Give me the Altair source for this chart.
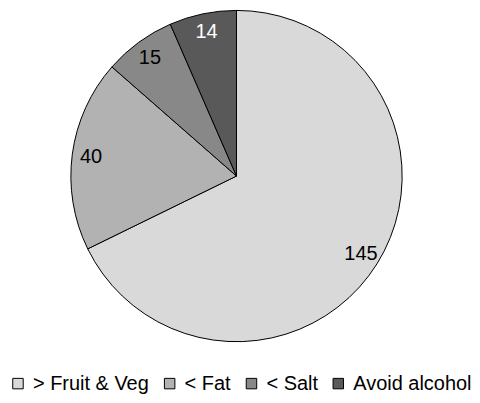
import altair as alt
import pandas as pd

categories = ["> Fruit & Veg", "< Fat", "< Salt", "Avoid alcohol"]
values = [145, 40, 15, 14]
colors = ["#d9d9d9", "#b2b2b2", "#888888", "#595959"]
text_colors = ["black", "black", "black", "white"]

df = pd.DataFrame({
    "cat": categories,
    "val": values,
    "idx": list(range(len(categories))),
    "tc": text_colors,
})

base = alt.Chart(df).encode(
    theta=alt.Theta("val:Q", stack=True),
    order=alt.Order("idx:Q"),
)

arcs = base.mark_arc(outerRadius=166, stroke="black", strokeWidth=1).encode(
    color=alt.Color(
        "cat:N",
        scale=alt.Scale(domain=categories, range=colors),
        sort=categories,
        legend=alt.Legend(
            title=None,
            orient="none",
            direction="horizontal",
            legendX=0,
            legendY=366,
            padding=0,
            symbolType="square",
            symbolSize=110,
            symbolStrokeColor="black",
            symbolStrokeWidth=1,
            symbolOpacity=1,
            labelFont="Liberation Sans",
            labelFontSize=20,
            labelColor="black",
            labelOffset=5,
            columnPadding=10,
            labelLimit=300,
        ),
    )
)

labels = base.mark_text(radius=147, font="Liberation Sans", fontSize=20).encode(
    text=alt.Text("val:Q"),
    color=alt.Color("tc:N", scale=None),
)

chart = alt.layer(arcs, labels).properties(
    width=458, height=336, padding=0
).configure_view(stroke=None)

chart.save("out.html", embed_options={"renderer": "svg", "actions": False})
